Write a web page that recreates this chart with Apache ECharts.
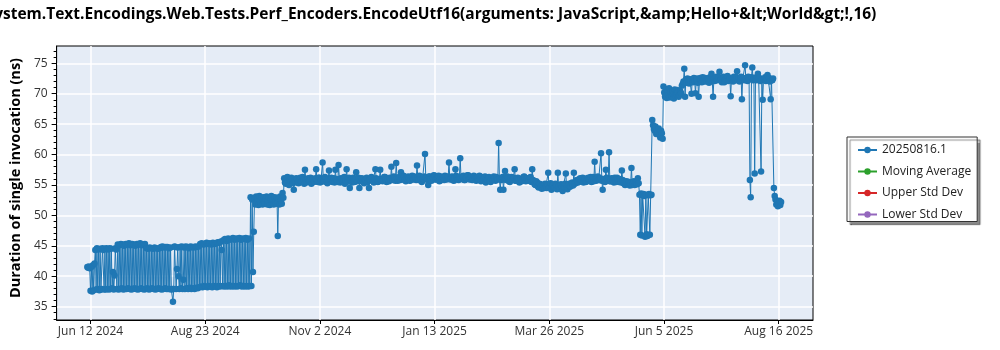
<!DOCTYPE html>
<html><head><meta charset="utf-8">
<script src="https://cdn.jsdelivr.net/npm/echarts@6/dist/echarts.min.js"></script>
<style>html,body{margin:0;padding:0;background:#fff}#c{width:1000px;height:350px}</style>
</head><body><div id="c"></div>
<script>
const chartTitle = 'System.Text.Encodings.Web.Tests.Perf_Encoders.EncodeUtf16(arguments: JavaScript,&amp;Hello+&lt;World&gt;!,16)';
const yAxisTitle = 'Duration of single invocation (ns)';
const seriesNames = ['20250816.1', 'Moving Average', 'Upper Std Dev', 'Lower Std Dev'];
const seriesColors = ['#1f77b4', '#2ca02c', '#d62728', '#9467bd'];

// two runs per day (every 12 h) starting at this date
const startDate = '2024-06-10';
const stepHours = 12;
// Jun 10 - Sep 19 2024 (bimodal)
const valsA = [41.5,41.4,41.6,41.3,37.6,41.5,37.5,41.8,37.7,42.1,
 44.3,37.8,44.6,37.9,44.4,37.7,44.5,37.8,37.9,44.6,
 44.3,37.8,44.5,37.8,44.6,37.9,44.4,37.8,44.6,37.9,
 44.5,38.0,40.7,37.8,40.1,44.6,44.4,37.9,45.2,37.8,
 45.1,37.9,45.3,38.0,45.2,37.8,45.0,37.9,45.3,37.9,
 45.2,38.0,45.4,37.9,45.1,37.8,45.3,37.9,45.2,38.0,
 45.0,37.9,45.3,37.8,45.2,37.9,45.4,38.0,45.1,37.9,
 45.2,37.8,45.3,37.9,44.6,38.0,44.5,37.8,44.7,37.9,
 44.6,38.0,44.5,37.9,44.7,37.8,44.6,37.9,44.5,38.0,
 44.6,37.9,44.8,37.8,44.9,37.9,44.7,38.0,44.8,37.9,
 44.8,37.9,44.6,37.9,44.7,37.8,37.9,35.8,37.9,44.9,
 44.8,37.9,41.2,44.7,40.0,37.9,44.8,38.0,44.9,37.9,
 39.4,44.7,37.9,44.9,38.0,44.8,37.9,44.6,38.1,44.9,
 37.9,44.8,38.0,44.7,37.9,44.9,38.1,44.8,38.0,44.9,
 38.2,45.3,38.3,45.4,38.2,45.2,38.4,45.3,38.3,45.5,
 38.2,45.3,38.4,45.4,38.3,45.2,38.2,45.5,38.4,45.3,
 38.3,45.4,38.2,45.6,38.4,45.5,38.3,45.7,44.3,38.4,
 45.9,38.3,46.1,38.4,45.8,38.3,46.2,38.5,46.0,38.3,
 46.1,38.4,46.3,38.3,46.0,38.4,46.2,38.3,46.1,38.4,
 46.3,38.5,46.0,38.3,46.2,38.4,46.1,38.3,46.3,38.4,
 46.0,38.3,46.2,38.4];
// Sep 20 - Oct 10 2024
const valsB = [53.0,38.4,52.6,40.7,47.3,52.9,51.8,53.1,52.0,52.8,
 51.7,53.2,52.3,51.9,52.9,51.8,53.0,52.2,51.9,52.7,
 53.1,51.8,52.4,53.0,51.7,52.8,53.2,52.0,52.6,51.8,
 53.0,52.3,51.9,52.9,46.6,52.8,51.8,53.1,52.4,51.9,
 53.7,52.9];
// Oct 11 2024 - May 20 2025
const valsC = [56.1,55.4,55.2,56.0,56.3,55.6,55.0,55.8,55.7,56.2,
 55.9,55.3,54.2,55.7,55.5,56.1,56.0,55.4,55.3,55.9,
 56.2,55.5,55.6,56.3,55.9,55.2,57.5,55.8,55.4,56.0,
 56.1,55.6,55.7,56.2,55.2,55.9,56.0,55.5,55.6,56.1,
 57.6,55.7,55.5,56.2,56.2,55.4,55.8,56.0,58.7,55.6,
 55.6,56.3,56.0,55.5,55.3,55.9,57.4,55.8,55.9,56.2,
 55.5,55.7,56.1,55.4,57.5,56.0,55.7,55.5,58.3,55.9,
 55.4,56.1,56.0,55.6,55.8,56.3,55.2,55.7,57.6,55.9,
 55.6,56.2,54.5,55.8,55.9,55.4,56.2,55.7,55.5,56.0,
 57.1,55.6,55.8,56.2,54.5,55.9,55.6,56.1,56.0,55.5,
 55.3,55.8,55.9,56.2,55.5,55.7,54.5,55.9,55.8,56.3,
 56.1,55.6,55.4,55.9,57.6,56.1,55.9,55.5,55.6,56.0,
 57.5,55.8,56.0,55.6,55.7,56.3,56.3,55.9,55.5,56.1,
 55.9,55.6,56.2,55.8,58.0,56.0,55.8,56.4,56.1,55.7,
 58.6,56.2,55.7,56.0,56.3,55.8,57.1,56.1,55.9,56.5,
 56.4,55.8,55.6,56.2,56.0,56.4,56.2,55.7,55.8,56.3,
 56.5,56.0,55.9,56.4,56.1,55.8,58.2,56.2,55.8,56.5,
 56.3,55.9,55.5,56.1,56.0,56.4,60.1,56.2,56.2,55.8,
 55.0,56.4,56.4,56.0,55.7,56.3,56.1,56.6,56.5,55.9,
 55.9,56.2,56.2,56.5,55.6,56.1,56.4,55.8,56.0,56.3,
 55.8,56.5,56.3,55.9,56.1,56.4,58.7,56.0,55.9,56.3,
 56.4,55.8,55.7,56.2,57.6,56.5,56.2,55.9,55.8,56.3,
 59.4,56.1,56.0,56.4,56.5,55.8,55.8,56.2,56.2,56.6,
 56.6,56.0,55.9,56.3,56.3,55.8,56.0,56.5,56.4,56.1,
 55.7,56.2,56.2,55.9,56.5,56.0,55.6,56.3,55.9,55.7,
 56.1,56.4,55.4,56.0,55.8,56.2,56.3,55.7,55.5,56.1,
 56.0,55.8,56.4,56.1,55.7,56.3,56.2,55.9,61.9,56.0,
 54.2,55.8,56.0,56.3,54.2,55.9,57.3,56.1,55.8,56.4,
 56.1,55.6,55.5,56.0,56.3,55.8,55.9,56.2,57.6,55.7,
 55.7,56.1,56.2,55.9,55.4,56.0,56.0,55.6,55.8,56.3,
 56.4,55.9,55.6,56.1,56.1,55.7,55.9,56.2,56.3,55.5,
 57.6,55.8,55.5,55.1,55.0,55.6,55.4,54.8,54.6,55.2,
 55.1,54.7,54.4,55.0,54.9,54.5,55.2,54.8,54.5,55.1,
 57.0,54.6,54.8,55.3,54.2,54.9,55.0,54.5,54.6,55.2,
 54.9,54.3,57.0,54.8,54.4,55.0,55.1,54.6,54.0,54.9,
 54.7,55.2,56.9,54.5,54.3,55.0,55.2,54.7,54.8,55.3,
 55.4,54.9,57.0,55.2,55.3,55.7,55.8,55.4,55.5,56.0,
 56.1,55.6,55.7,56.2,55.4,55.9,56.0,55.5,55.6,56.1,
 56.2,55.8,55.9,56.3,55.5,55.8,56.3,55.6,58.8,56.0,
 55.7,56.2,56.4,55.9,55.8,56.1,60.2,55.7,54.2,56.0,
 55.9,55.5,57.5,56.2,56.1,55.8,60.4,55.6,55.6,56.1,
 56.0,55.7,55.4,56.2,55.8,55.5,56.2,55.9,55.5,56.0,
 55.9,55.4,57.4,55.8,55.3,55.6,55.0,55.4,55.6,55.1,
 55.2,55.5,54.9,55.3,57.8,55.0,55.3,55.6,55.0,55.4,
 55.4,55.1,56.1,55.3];
// May 21 - May 28 2025
const valsD = [53.4,46.8,53.6,46.7,53.3,53.5,53.2,46.5,53.4,46.9,46.6,53.3,53.5,46.8,53.3,53.4];
// May 29 - Jun 4 2025
const valsE = [65.7,64.8,64.2,63.9,64.6,63.4,64.0,63.6,64.3,63.2,62.8,63.9,63.5,62.6];
// Jun 5 - Aug 17 2025
const valsF = [71.2,70.2,69.5,70.8,69.3,70.5,69.8,70.9,69.4,70.3,
 69.6,70.1,70.4,69.2,70.7,69.7,69.9,70.6,70.2,69.5,
 69.8,70.4,70.1,71.3,71.6,72.0,74.1,69.5,72.3,71.8,
 72.5,72.0,71.7,72.4,72.1,70.0,72.4,71.9,72.6,72.1,
 70.1,72.2,72.5,71.8,69.5,72.4,72.6,72.2,71.9,72.7,
 72.3,72.0,72.6,72.2,72.0,72.5,72.4,71.8,72.7,72.3,
 73.3,72.1,69.5,72.4,72.1,72.6,72.8,72.2,72.3,72.7,
 73.6,72.2,72.5,71.9,72.4,72.8,71.9,72.3,72.4,72.6,
 72.9,72.1,72.3,72.6,69.6,72.5,72.3,72.0,72.8,72.4,
 72.2,72.7,73.7,72.2,72.6,72.0,72.4,72.8,69.1,72.4,
 72.6,72.2,74.7,72.3,72.6,72.1,72.8,72.4,55.8,53.0,
 72.7,74.3,72.2,72.6,56.9,72.5,72.2,72.8,73.3,72.3,
 72.6,72.1,57.2,72.4,69.0,72.3,72.4,72.7,72.1,72.5,
 73.1,72.3,72.6,72.0,69.1,72.4,72.2,72.5,54.5,53.2,
 52.6,51.8,52.3,51.5,52.0,52.4,51.7,52.2];

const xTickDates = ['2024-06-12T00:00:00Z','2024-08-22T16:00:00Z','2024-11-02T08:00:00Z','2025-01-13T00:00:00Z','2025-03-25T16:00:00Z','2025-06-05T08:00:00Z','2025-08-16T00:00:00Z'];
const xTickLabels = ['Jun 12 2024','Aug 23 2024','Nov 2 2024','Jan 13 2025','Mar 26 2025','Jun 5 2025','Aug 16 2025'];
const xRange = ['2024-05-21T19:30:00Z', '2025-09-06T10:30:00Z'];
const yTickValues = [35,40,45,50,55,60,65,70,75];
const yMinorTickValues = [33,34,35,36,37,38,39,40,41,42,43,44,45,46,47,48,49,50,51,52,53,54,55,56,57,58,59,60,61,62,63,64,65,66,67,68,69,70,71,72,73,74,75,76,77];
const yRange = [32.8, 77.85];

const HOUR = 3600000;
const t0 = Date.parse(startDate + 'T00:00:00Z');
const allVals = [].concat(valsA, valsB, valsC, valsD, valsE, valsF);
const mainData = allVals.map((v, i) => [t0 + i * stepHours * HOUR, v]);
const xTicks = xTickDates.map(d => Date.parse(d));
const labelMap = {};
xTicks.forEach((t, i) => { labelMap[t] = xTickLabels[i]; });

const FONT = 'Open Sans';
const chart = echarts.init(document.getElementById('c'), null, {renderer: 'canvas'});
const series = seriesNames.map((n, i) => ({
  name: n, type: 'line', data: i === 0 ? mainData : [],
  color: seriesColors[i],
  symbol: 'circle', symbolSize: 6.5, showSymbol: true, showAllSymbol: true,
  lineStyle: {width: 1, color: seriesColors[i]},
  itemStyle: {color: seriesColors[i]},
  emphasis: {disabled: true}, animation: false, z: 5
}));

chart.setOption({
  animation: false,
  backgroundColor: '#fff',
  textStyle: {fontFamily: FONT},
  grid: {left: 48, right: 187, top: 46, bottom: 30, show: true, backgroundColor: '#e5ecf6', borderColor: '#000', borderWidth: 1},
  graphic: [{
    type: 'text', x: 431, y: 15,
    style: {text: chartTitle, font: 'bold 15.5px "Open Sans"', fill: '#000', textAlign: 'center', textVerticalAlign: 'middle'}
  }],
  legend: {
    orient: 'vertical', left: 847, top: 137,
    data: seriesNames,
    padding: [7, 6, 1, 10], itemGap: 9.5, itemWidth: 19, itemHeight: 8,
    backgroundColor: '#fff', borderColor: '#333', borderWidth: 1, borderRadius: 0,
    shadowColor: 'rgba(0,0,0,0.45)', shadowOffsetX: 3, shadowOffsetY: 3, shadowBlur: 1,
    textStyle: {fontSize: 12, color: '#222', fontFamily: FONT},
    selectedMode: false
  },
  xAxis: {
    type: 'value', min: Date.parse(xRange[0]), max: Date.parse(xRange[1]),
    axisLine: {show: true, onZero: false, lineStyle: {color: '#000', width: 1}},
    axisTick: {show: true, length: 4, customValues: xTicks, lineStyle: {color: '#000'}},
    axisLabel: {customValues: xTicks, formatter: v => labelMap[v] || '', color: '#333', fontSize: 12, fontFamily: FONT, margin: 6},
    splitLine: {show: true, lineStyle: {color: '#fff', width: 1.5}}
  },
  yAxis: [{
    type: 'value', min: yRange[0], max: yRange[1], position: 'left',
    name: yAxisTitle, nameLocation: 'middle', nameGap: 33,
    nameTextStyle: {fontWeight: 'bold', fontSize: 14.5, color: '#000', fontFamily: FONT, padding: [0, 0, 0, 10]},
    axisLine: {show: true, onZero: false, lineStyle: {color: '#000', width: 1}},
    axisTick: {show: true, length: 5, customValues: yTickValues, lineStyle: {color: '#000'}},
    axisLabel: {customValues: yTickValues, color: '#333', fontSize: 12, fontFamily: FONT, margin: 9},
    splitLine: {show: true, lineStyle: {color: '#fff', width: 1.5}}
  }, {
    type: 'value', min: yRange[0], max: yRange[1], position: 'left', offset: 0,
    axisLine: {show: false},
    axisTick: {show: true, length: 3, customValues: yMinorTickValues, lineStyle: {color: '#000'}},
    axisLabel: {show: false}, splitLine: {show: false}
  }],
  series: series
});
</script></body></html>
